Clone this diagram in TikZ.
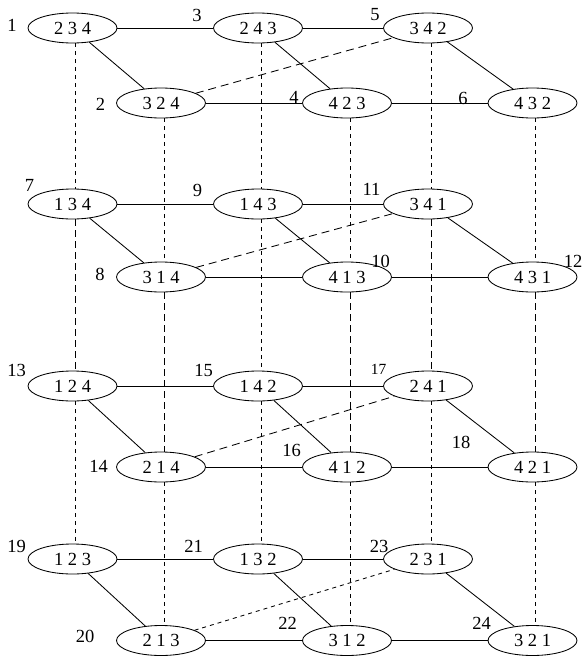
\documentclass[tikz,border=0pt]{standalone}
\usepackage{fontspec}
\setmainfont{Liberation Serif}
\usetikzlibrary{shapes.geometric}
\begin{document}
\begin{tikzpicture}[x=1pt,y=-1pt,
  perm/.style={ellipse,draw,line width=0.85pt,minimum width=89pt,minimum height=30pt,inner sep=0pt,font=\fontsize{18.5}{19}\selectfont},
  lab/.style={inner sep=0pt,font=\fontsize{18.5}{19}\selectfont},
  edge/.style={line width=0.85pt},
  sdash/.style={line width=0.85pt,dash pattern=on 4pt off 4pt},
  ldash/.style={line width=0.85pt,dash pattern=on 7pt off 4pt},
  ddash/.style={line width=0.85pt,dash pattern=on 8pt off 5pt}]
\useasboundingbox (0,0) rectangle (584,656);
% layer 1
\node[perm] (n1) at (72.5,28) {2 3 4};
\node[perm] (n2) at (161,103) {3 2 4};
\node[perm] (n3) at (258,28) {2 4 3};
\node[perm] (n4) at (347,103) {4 2 3};
\node[perm] (n5) at (428,28) {3 4 2};
\node[perm] (n6) at (532.5,103) {4 3 2};
% layer 2
\node[perm] (n7) at (72.5,204) {1 3 4};
\node[perm] (n8) at (161,277) {3 1 4};
\node[perm] (n9) at (258,204) {1 4 3};
\node[perm] (n10) at (347,277) {4 1 3};
\node[perm] (n11) at (428,204) {3 4 1};
\node[perm] (n12) at (532.5,277) {4 3 1};
% layer 3
\node[perm] (n13) at (72.5,386) {1 2 4};
\node[perm] (n14) at (161,467) {2 1 4};
\node[perm] (n15) at (258,386) {1 4 2};
\node[perm] (n16) at (347,467) {4 1 2};
\node[perm] (n17) at (428,386) {2 4 1};
\node[perm] (n18) at (532.5,467) {4 2 1};
% layer 4
\node[perm] (n19) at (72.5,559) {1 2 3};
\node[perm] (n20) at (161,640.5) {2 1 3};
\node[perm] (n21) at (258,559) {1 3 2};
\node[perm] (n22) at (347,640.5) {3 1 2};
\node[perm] (n23) at (428,559) {2 3 1};
\node[perm] (n24) at (532.5,640.5) {3 2 1};
% labels
\node[lab] (l1) at (12,25.5) {1};
\node[lab] (l2) at (100.5,104) {2};
\node[lab] (l3) at (197,15) {3};
\node[lab] (l4) at (294,97.5) {4};
\node[lab] (l5) at (375,15) {5};
\node[lab] (l6) at (463,98) {6};
\node[lab] (l7) at (29.5,185) {7};
\node[lab] (l8) at (100,274) {8};
\node[lab] (l9) at (197.5,190) {9};
\node[lab] (l10) at (380.5,261) {10};
\node[lab] (l11) at (371.5,189.5) {11};
\node[lab] (l12) at (573,261) {12};
\node[lab] (l13) at (16.5,370) {13};
\node[lab] (l14) at (98.5,466.5) {14};
\node[lab] (l15) at (203.5,370) {15};
\node[lab] (l16) at (291.5,450) {16};
\node[lab,font=\fontsize{15.5}{16}\selectfont] (l17) at (378.5,369.5) {17};
\node[lab] (l18) at (461,442.5) {18};
\node[lab] (l19) at (16.5,546.5) {19};
\node[lab] (l20) at (85,636.5) {20};
\node[lab] (l21) at (193.5,546.5) {21};
\node[lab] (l22) at (287.5,623.5) {22};
\node[lab] (l23) at (379,546.5) {23};
\node[lab] (l24) at (481.5,623.5) {24};
% layer edges
\foreach \a/\b/\c/\d/\e/\f/\s in {1/2/3/4/5/6/ddash,7/8/9/10/11/12/ddash,13/14/15/16/17/18/ddash,19/20/21/22/23/24/sdash}{
  \draw[edge] (n\a) -- (n\c);
  \draw[edge] (n\c) -- (n\e);
  \draw[edge] (n\b) -- (n\d);
  \draw[edge] (n\d) -- (n\f);
  \draw[edge] (n\a) -- (n\b);
  \draw[edge] (n\c) -- (n\d);
  \draw[edge] (n\e) -- (n\f);
  \draw[\s] (n\b) -- (n\e);
}
% vertical connectors
\foreach \t/\u/\s in {1/7/sdash,2/8/sdash,3/9/sdash,4/10/sdash,5/11/sdash,6/12/sdash,
  7/13/ldash,8/14/ldash,9/15/sdash,10/16/ldash,11/17/ldash,12/18/ldash,
  13/19/sdash,14/20/sdash,15/21/sdash,16/22/sdash,17/23/sdash,18/24/sdash}{
  \draw[\s] ([xshift=3pt]n\t.south) -- ([xshift=3pt]n\u.north);
}
\end{tikzpicture}
\end{document}
